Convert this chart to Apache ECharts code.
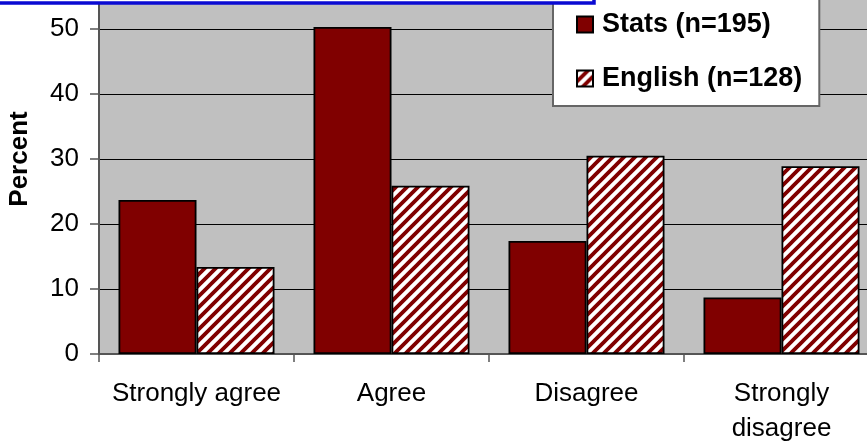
<!DOCTYPE html>
<html>
<head>
<meta charset="utf-8">
<script src="https://cdn.jsdelivr.net/npm/echarts@6/dist/echarts.min.js"></script>
<style>
  html, body { margin: 0; padding: 0; background: #fff; }
  #chart { width: 867px; height: 447px; }
</style>
</head>
<body>
<div id="chart"></div>
<script>
const categories = ['Strongly agree', 'Agree', 'Disagree', 'Strongly\ndisagree']
const statsValues = [23.7, 50.3, 17.4, 8.7]
const englishValues = [13.4, 25.9, 30.5, 28.9]
const seriesNames = ['Stats (n=195)', 'English (n=128)']

// diagonal hatch for the English bars
function makeHatch() {
  const size = 11
  const c = document.createElement('canvas')
  c.width = size
  c.height = size
  const ctx = c.getContext('2d')
  ctx.fillStyle = '#ffffff'
  ctx.fillRect(0, 0, size, size)
  ctx.strokeStyle = '#800000'
  ctx.lineWidth = 3.8
  ctx.beginPath()
  ctx.moveTo(-size, size * 2); ctx.lineTo(size * 2, -size)
  ctx.moveTo(-size * 2, size * 2); ctx.lineTo(size, -size)
  ctx.moveTo(0, size * 2); ctx.lineTo(size * 3, -size)
  ctx.stroke()
  return c
}

const font = 'Liberation Sans, Arial, sans-serif'
const chart = echarts.init(document.getElementById('chart'))
chart.setOption({
  animation: false,
  textStyle: { fontFamily: font },
  grid: {
    left: 99, right: -12, top: -36, bottom: 93,
    outerBoundsMode: 'none', containLabel: false,
    backgroundColor: '#c0c0c0', show: true, borderWidth: 0
  },
  graphic: [{
    type: 'rect', z: 100,
    shape: { x: -10, y: -50, width: 604, height: 53 },
    style: { fill: '#ffffff', stroke: '#0a0ad2', lineWidth: 3.5 }
  }],
  legend: {
    orient: 'vertical',
    left: 553, top: -10,
    backgroundColor: '#ffffff',
    borderColor: '#666666', borderWidth: 2,
    padding: [21, 17, 14, 23],
    itemGap: 27,
    itemWidth: 16, itemHeight: 16,
    icon: 'rect',
    textStyle: { fontSize: 27, fontWeight: 'bold', color: '#000', fontFamily: font, padding: [0, 0, 0, 4] },
    data: seriesNames
  },
  xAxis: {
    type: 'category', data: categories,
    axisLine: { lineStyle: { color: '#555555', width: 2 } },
    axisTick: { show: true, length: 8, lineStyle: { color: '#555555', width: 1.5 } },
    axisLabel: { color: '#000', fontSize: 26, margin: 22, lineHeight: 35, interval: 0 },
    splitLine: { show: false }
  },
  yAxis: {
    type: 'value', min: 0, max: 60, interval: 10,
    name: 'Percent', nameLocation: 'middle', nameGap: 66,
    nameTextStyle: { fontSize: 26, fontWeight: 'bold', color: '#000' },
    axisLine: { show: true, lineStyle: { color: '#555555', width: 2 } },
    axisTick: { show: true, length: 9, lineStyle: { color: '#555555', width: 1.5 } },
    axisLabel: { color: '#000', fontSize: 26, margin: 20 },
    splitLine: { lineStyle: { color: '#000000', width: 1.2 } }
  },
  series: [
    {
      name: seriesNames[0], type: 'bar', data: statsValues,
      barGap: '0%', barCategoryGap: '20%',
      itemStyle: { color: '#800000', borderColor: '#000', borderWidth: 1.8 }
    },
    {
      name: seriesNames[1], type: 'bar', data: englishValues,
      barGap: '0%', barCategoryGap: '20%',
      itemStyle: { color: { image: makeHatch(), repeat: 'repeat' }, borderColor: '#000', borderWidth: 1.8 }
    }
  ]
})
</script>
</body>
</html>
